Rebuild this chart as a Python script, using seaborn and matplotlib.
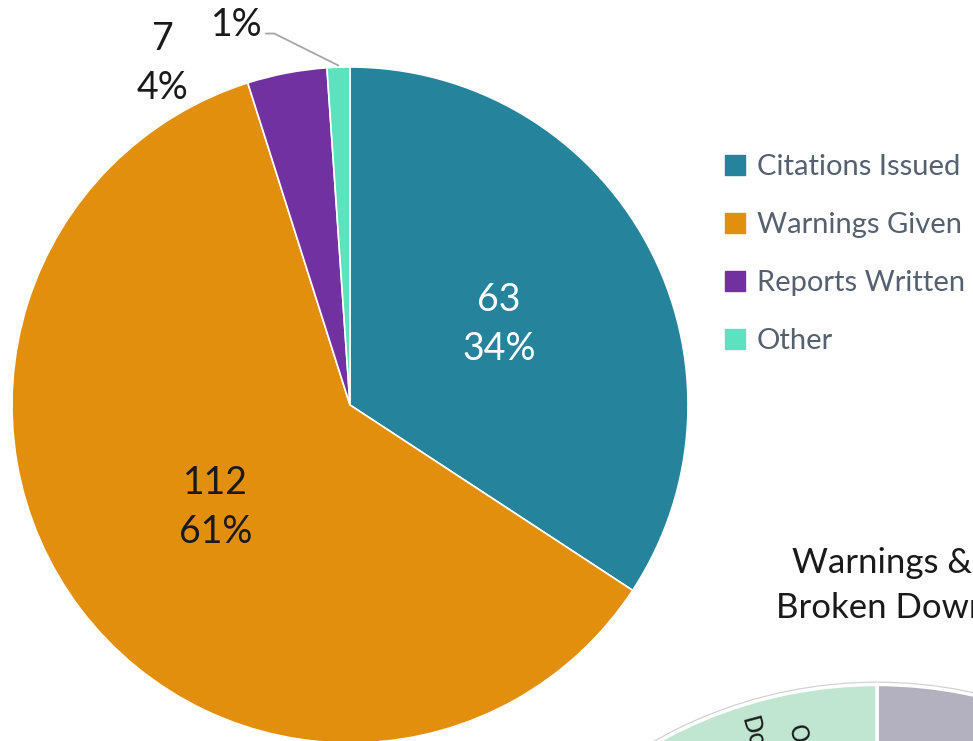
import numpy as np
import matplotlib
matplotlib.use("Agg")
import matplotlib.pyplot as plt
import seaborn as sns
from matplotlib.lines import Line2D

#----- data -----
categories = ["Citations Issued", "Warnings Given", "Reports Written", "Other"]
counts = [63, 112, 7, 2]
pct_labels = ["34%", "61%", "4%", "1%"]
colors = ["#25849c", "#e28f0e", "#7131a0", "#5ee1be"]

# second (cut off) chart at the bottom right
second_vals = [1, 1]
second_colors = ["#b3b1bf", "#c0e6d2"]

sns.set_theme(style="white")
plt.rcParams['font.family'] = ['Lato', 'DejaVu Sans']
plt.rcParams['font.weight'] = 'normal'

W, H = 973, 741
fig = plt.figure(figsize=(W / 100, H / 100), dpi=100)

#----- main pie -----
cx, cy, R = 350, 405, 338
ax = fig.add_axes([(cx - R) / W, (H - cy - R) / H, 2 * R / W, 2 * R / H])
wedges, _ = ax.pie(counts, colors=colors, startangle=90, counterclock=False,
                   radius=1, wedgeprops=dict(edgecolor="white", linewidth=1.2))
ax.set_xlim(-1, 1)
ax.set_ylim(-1, 1)
ax.set_aspect("equal")
ax.axis("off")

lab_kw = dict(ha="center", va="center", fontsize=27, linespacing=1.45,
              clip_on=False)
for i, w in enumerate(wedges):
    mid = np.deg2rad((w.theta1 + w.theta2) / 2)
    if i == 0:
        ax.text(0.5 * np.cos(mid), 0.5 * np.sin(mid), f"{counts[i]}\n{pct_labels[i]}",
                color="white", **lab_kw)
    elif i == 1:
        ax.text(0.5 * np.cos(mid), 0.5 * np.sin(mid), f"{counts[i]}\n{pct_labels[i]}",
                color="#1a1a1a", **lab_kw)
    elif i == 2:
        # pushed left so it clears the 1% label
        a = mid + np.deg2rad(18)
        ax.text(1.153 * np.cos(a), 1.153 * np.sin(a), f"{counts[i]}\n{pct_labels[i]}",
                color="#1a1a1a", **lab_kw)
    else:
        px, py = np.cos(mid), np.sin(mid)
        tx, ty = -0.334, 1.124
        ax.text(tx, ty, pct_labels[i], color="#1a1a1a", **lab_kw)
        ax.plot([tx + 0.085, tx + 0.11, px], [ty - 0.025, ty - 0.025, py + 0.005],
                color="#a6a6a6", lw=1.3, clip_on=False)

#----- legend -----
handles = [Line2D([0], [0], marker="s", color="none", markerfacecolor=c,
                  markeredgecolor=c, markersize=14) for c in colors]
fig.legend(handles, categories, loc="upper left",
           bbox_to_anchor=(722 / W, 1 - 154 / H), frameon=False,
           labelspacing=1.1, handlelength=0.9,
           handletextpad=0.3, borderpad=0, borderaxespad=0,
           labelcolor="#556070", prop={'size': 21})

#----- second chart (cut off) -----
fig.text(792 / W, 1 - 563 / H, "Warnings &", ha="left", va="center",
         fontsize=25, color="#1a1a1a")
fig.text(776 / W, 1 - 608 / H, "Broken Down", ha="left", va="center",
         fontsize=25, color="#1a1a1a")

c2x, c2y, R2 = 877, 1133, 453
ax2 = fig.add_axes([(c2x - R2) / W, (H - c2y - R2) / H, 2 * R2 / W, 2 * R2 / H])
ax2.pie([1], colors=["#cfcfcf"], radius=1.008)
ax2.pie(second_vals, colors=second_colors, startangle=90, counterclock=False,
        radius=1, wedgeprops=dict(edgecolor="white", linewidth=2.5))
ax2.set_xlim(-1.01, 1.01)
ax2.set_ylim(-1.01, 1.01)
ax2.set_aspect("equal")
ax2.axis("off")

fig.text(752 / W, 1 - 714 / H, "Do", rotation=-75, ha="center", va="top",
         fontsize=17, color="#1a1a1a", family="DejaVu Sans")
fig.text(797 / W, 1 - 722 / H, "O", rotation=-75, ha="center", va="top",
         fontsize=17, color="#1a1a1a", family="DejaVu Sans")

fig.savefig("out.png", dpi=100)
